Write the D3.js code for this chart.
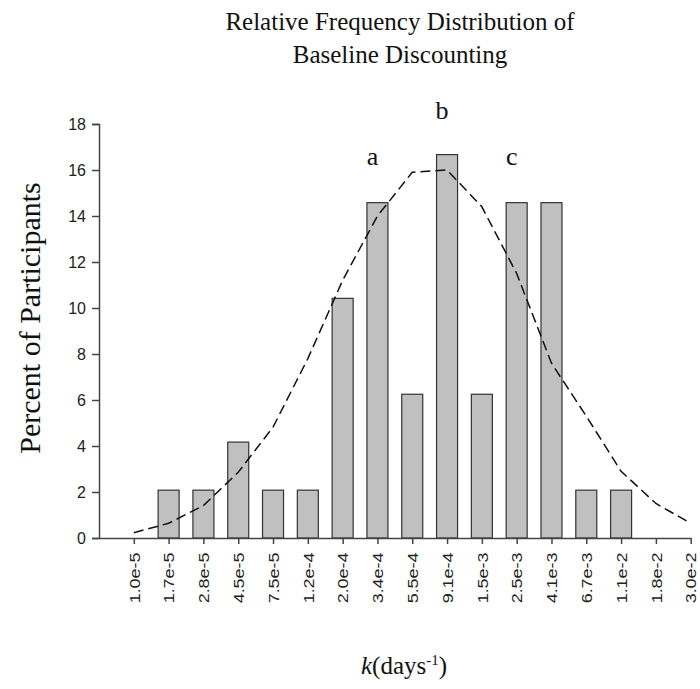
<!DOCTYPE html>
<html>
<head>
<meta charset="utf-8">
<script src="https://cdnjs.cloudflare.com/ajax/libs/d3/7.8.5/d3.min.js"></script>
<style>
  body { margin: 0; background: #fff; }
  .serif { font-family: "Liberation Serif", "Times New Roman", serif; fill: #111; }
  .tick text { font-family: "Liberation Sans", Arial, sans-serif; font-size: 15px; fill: #222; }
</style>
</head>
<body>
<script>
//Data
var kLabels = ["1.0e-5","1.7e-5","2.8e-5","4.5e-5","7.5e-5","1.2e-4","2.0e-4","3.4e-4","5.5e-4",
               "9.1e-4","1.5e-3","2.5e-3","4.1e-3","6.7e-3","1.1e-2","1.8e-2","3.0e-2"];
var percents = [0, 2.08, 2.08, 4.17, 2.08, 2.08, 10.42, 14.58, 6.25,
                16.67, 6.25, 14.58, 14.58, 2.08, 2.08, 0, 0];
var fitted = [0.23, 0.64, 1.41, 2.86, 4.82, 7.8, 11.2, 14.0, 15.9,
              16.0, 14.4, 11.5, 7.6, 5.3, 2.9, 1.5, 0.64];
var yTicks = [0, 2, 4, 6, 8, 10, 12, 14, 16, 18];
var letters = [{label: "a", k: "3.4e-4", y: 16.2}, {label: "b", k: "9.1e-4", y: 18.2}, {label: "c", k: "2.5e-3", y: 16.2}];

var w = 700, h = 689;
var margin = {top: 124, left: 99, bottom: 151};

var svg = d3.select("body").append("svg")
  .attr("width", w)
  .attr("height", h);

//Scales: the y axis sits one slot left of the first k value
var x = d3.scaleLinear()
  .domain([0, kLabels.length])
  .range([margin.left, 690.7]);
var xk = (k) => x(kLabels.indexOf(k) + 1);
var y = d3.scaleLinear()
  .domain([0, 18])
  .range([h - margin.bottom, margin.top]);
var barW = 21;

//Title
svg.append("text")
  .attr("class", "serif")
  .attr("x", 400).attr("y", 0)
  .attr("text-anchor", "middle")
  .style("font-size", "25px")
  .selectAll("tspan")
  .data(["Relative Frequency Distribution of", "Baseline Discounting"])
  .enter().append("tspan")
    .attr("x", 400)
    .attr("y", (d, i) => 30 + i * 33)
    .text((d) => d);

//Bars
svg.selectAll("rect.bar")
  .data(percents.map((p, i) => ({k: kLabels[i], p: p})).filter((d) => d.p > 0))
  .enter()
  .append("rect")
    .attr("class", "bar")
    .attr("x", (d) => xk(d.k) - barW / 2)
    .attr("y", (d) => y(d.p))
    .attr("width", barW)
    .attr("height", (d) => y(0) - y(d.p))
    .attr("fill", "#c0c0c0")
    .attr("stroke", "#333")
    .attr("stroke-width", 1.2);

//Fitted curve
var line = d3.line()
  .x((d, i) => x(i + 1))
  .y((d) => y(d));
svg.append("path")
  .datum(fitted)
  .attr("d", line)
  .attr("fill", "none")
  .attr("stroke", "#111")
  .attr("stroke-width", 1.5)
  .attr("stroke-dasharray", "10,5");

//Axes
var xAxis = svg.append("g")
  .attr("transform", "translate(0," + y(0) + ")")
  .call(d3.axisBottom(x)
    .tickValues(d3.range(1, kLabels.length + 1))
    .tickFormat((d) => kLabels[d - 1])
    .tickSizeInner(6).tickSizeOuter(0).tickPadding(8));
// labels read bottom-to-top, a little stretched like the original
xAxis.selectAll(".tick text")
  .attr("transform", "rotate(-90) scale(1.2,1)")
  .attr("text-anchor", "end")
  .attr("x", -12)
  .attr("y", 0)
  .attr("dy", "0.35em");

var yAxis = svg.append("g")
  .attr("transform", "translate(" + margin.left + ",0)")
  .call(d3.axisLeft(y).tickValues(yTicks).tickSizeInner(7).tickSizeOuter(7).tickPadding(6));
yAxis.selectAll(".tick text").style("font-size", "16px");

svg.selectAll(".domain, .tick line").attr("stroke", "#444").attr("stroke-width", 1.5);

//Axis titles
svg.append("text")
  .attr("class", "serif")
  .attr("transform", "translate(40,318) rotate(-90)")
  .attr("text-anchor", "middle")
  .style("font-size", "30px")
  .text("Percent of Participants");

var xTitle = svg.append("text")
  .attr("class", "serif")
  .attr("x", 404).attr("y", 674)
  .attr("text-anchor", "middle")
  .style("font-size", "25px");
xTitle.append("tspan").style("font-style", "italic").text("k");
xTitle.append("tspan").text("(days");
xTitle.append("tspan").attr("dy", -9).style("font-size", "15px").text("-1");
xTitle.append("tspan").attr("dy", 9).text(")");

//Letter annotations
svg.selectAll("text.letter")
  .data(letters)
  .enter()
  .append("text")
    .attr("class", "serif letter")
    .attr("x", (d) => xk(d.k) - 5)
    .attr("y", (d) => y(d.y))
    .attr("text-anchor", "middle")
    .style("font-size", "26px")
    .text((d) => d.label);
</script>
</body>
</html>
